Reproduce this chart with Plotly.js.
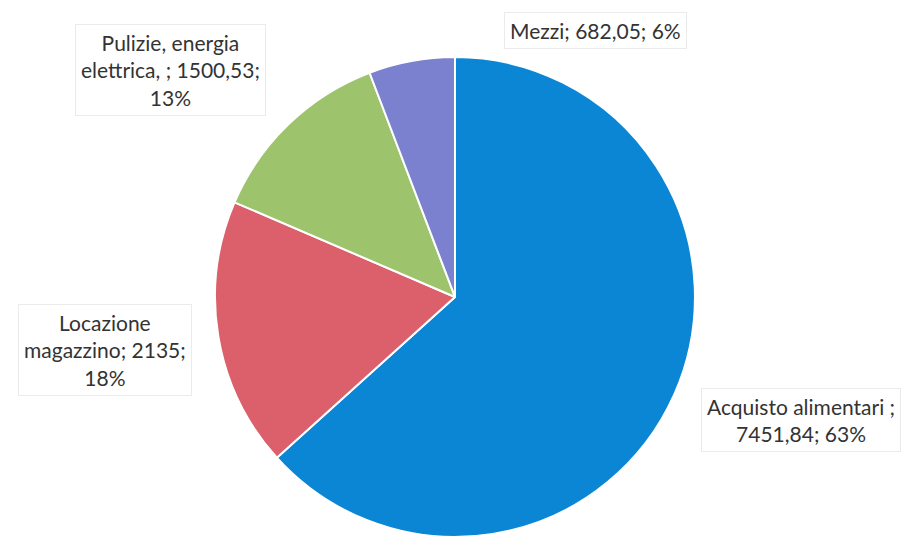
<!DOCTYPE html>
<html>
<head>
<meta charset="utf-8">
<script src="https://cdn.plot.ly/plotly-3.0.1.min.js"></script>
<style>
  html, body { margin: 0; padding: 0; background: #ffffff; }
  #chart { width: 901px; height: 538px; }
</style>
</head>
<body>
<div id="chart"></div>
<script>
// ---- data ----
const categories = ["Acquisto alimentari ", "Locazione magazzino", "Pulizie, energia elettrica, ", "Mezzi"];
const values = [7451.84, 2135, 1500.53, 682.05];
const colors = ["#0b86d5", "#dc606b", "#9dc46c", "#7b80cf"];

// ---- label layout (positions in paper coordinates, wrap widths in characters) ----
const labelPos = [
  { x: 0.889, y: 0.219 },
  { x: 0.1165, y: 0.349 },
  { x: 0.189, y: 0.870 },
  { x: 0.661, y: 0.943 }
];
const wrapWidth = [21, 16, 21, 30];

const total = values.reduce((a, b) => a + b, 0);
function fmt(v) { return String(v).replace('.', ','); }
function wrap(text, width) {
  const words = text.split(/\s+/).filter(w => w.length);
  const lines = [];
  let cur = "";
  words.forEach(w => {
    const cand = cur ? cur + " " + w : w;
    if (cand.length > width && cur) { lines.push(cur); cur = w; }
    else cur = cand;
  });
  if (cur) lines.push(cur);
  return lines.join("<br>");
}

const annotations = categories.map((c, i) => {
  const pct = Math.round(values[i] / total * 100);
  const full = c + "; " + fmt(values[i]) + "; " + pct + "%";
  return {
    xref: "paper", yref: "paper",
    x: labelPos[i].x, y: labelPos[i].y,
    xanchor: "center", yanchor: "middle",
    text: wrap(full, wrapWidth[i]),
    showarrow: false,
    align: "center",
    bgcolor: "#ffffff",
    bordercolor: "#ebebeb",
    borderwidth: 1,
    borderpad: 5,
    font: { family: "Lato, 'Open Sans', sans-serif", size: 21, color: "#333333" }
  };
});

const trace = {
  type: "pie",
  labels: categories,
  values: values,
  sort: false,
  direction: "clockwise",
  rotation: 0,
  textinfo: "none",
  hoverinfo: "label+value+percent",
  marker: { colors: colors, line: { color: "#ffffff", width: 2 } },
  domain: { x: [0.2386, 0.7714], y: [0.002, 0.894] }
};

const layout = {
  width: 901, height: 538,
  margin: { l: 0, r: 0, t: 0, b: 0 },
  paper_bgcolor: "#ffffff",
  showlegend: false,
  annotations: annotations
};

Plotly.newPlot("chart", [trace], layout, { displayModeBar: false, staticPlot: true });
</script>
</body>
</html>
